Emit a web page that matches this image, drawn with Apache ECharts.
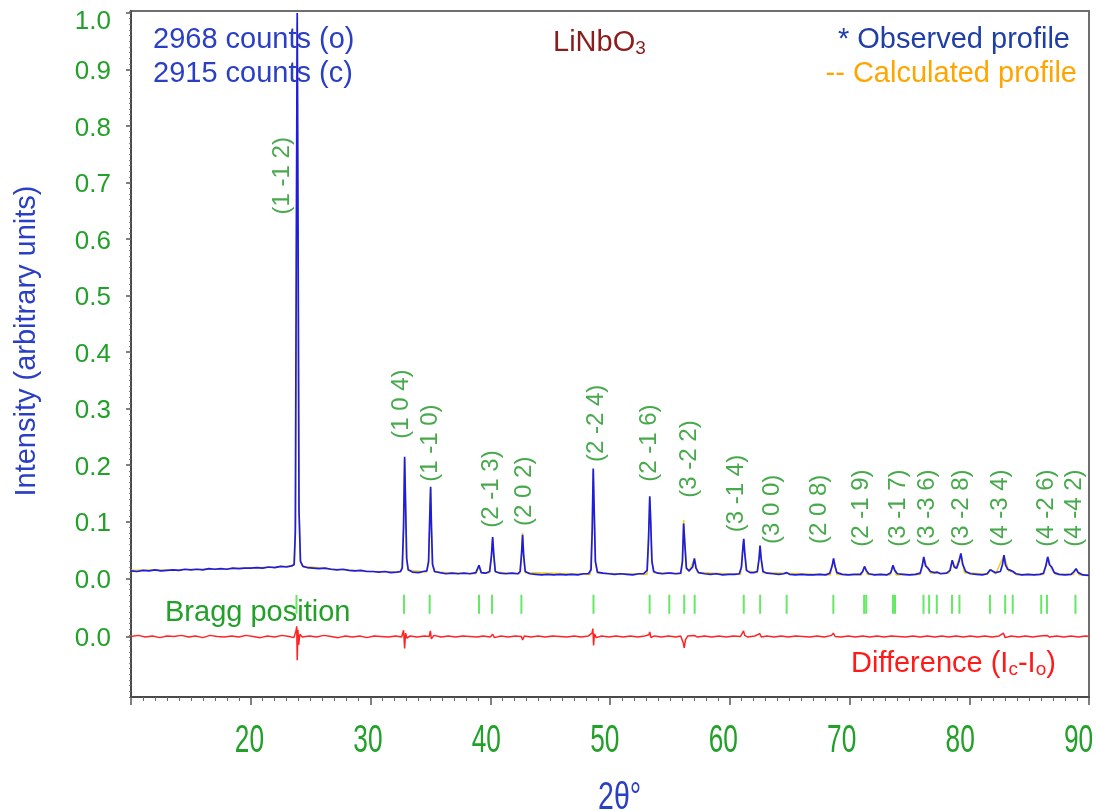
<!DOCTYPE html>
<html>
<head>
<meta charset="utf-8">
<title>LiNbO3 XRD Rietveld refinement</title>
<script src="https://cdn.jsdelivr.net/npm/echarts@6/dist/echarts.min.js"></script>
<style>
  html, body { margin: 0; padding: 0; background: #ffffff; }
  #chart { width: 1096px; height: 811px; }
</style>
</head>
<body>
<div id="chart"></div>
<script>
// ---- data -------------------------------------------------------------
// peak counts of the strongest reflection
const countsObserved = 2968;
const countsCalculated = 2915;

// observed profile: [2theta (deg), normalised intensity]
const observedProfile = [
  [10.0,0.013],[10.5,0.012],[11.0,0.014],[11.5,0.013],[12.0,0.015],[12.5,0.013],[13.0,0.014],[13.5,0.015],
  [14.0,0.014],[14.5,0.016],[15.0,0.015],[15.5,0.016],[16.0,0.015],[16.5,0.017],[17.0,0.016],[17.5,0.017],
  [18.0,0.016],[18.5,0.018],[19.0,0.017],[19.5,0.018],[20.0,0.018],[20.5,0.019],[21.0,0.018],[21.5,0.020],
  [22.0,0.019],[22.5,0.021],[23.0,0.020],[23.4,0.022],
  [23.62,0.024],[23.72,0.08],[23.80,0.55],[23.88,1.0],[23.95,0.62],[24.03,0.12],[24.15,0.030],[24.35,0.021],
  [24.7,0.019],[25.2,0.018],[25.7,0.017],[26.2,0.018],[26.7,0.016],[27.2,0.015],[27.7,0.016],[28.2,0.014],
  [28.7,0.013],[29.2,0.014],[29.7,0.012],[30.2,0.012],[30.7,0.011],[31.2,0.012],[31.7,0.010],[32.2,0.011],
  [32.5,0.012],[32.65,0.018],[32.76,0.09],[32.85,0.215],[32.93,0.13],[33.02,0.035],[33.15,0.015],
  [33.5,0.011],[34.0,0.010],[34.4,0.012],[34.7,0.013],
  [34.85,0.03],[34.95,0.11],[35.02,0.162],[35.09,0.09],[35.18,0.025],[35.35,0.012],
  [35.8,0.010],[36.3,0.008],[36.8,0.009],[37.3,0.008],[37.8,0.009],[38.3,0.008],[38.8,0.010],
  [39.06,0.023],[39.25,0.010],[39.6,0.009],[39.95,0.012],
  [40.1,0.04],[40.2,0.073],[40.3,0.04],[40.42,0.012],[40.8,0.009],[41.3,0.008],[41.8,0.009],[42.3,0.008],
  [42.5,0.012],[42.62,0.045],[42.7,0.077],[42.79,0.04],[42.92,0.012],[43.3,0.008],[43.8,0.007],[44.3,0.006],
  [44.8,0.007],[45.3,0.006],[45.8,0.007],[46.3,0.006],[46.8,0.007],[47.3,0.006],[47.8,0.008],[48.2,0.008],
  [48.42,0.015],[48.52,0.09],[48.6,0.194],[48.68,0.12],[48.78,0.03],[48.95,0.011],[49.4,0.009],[49.9,0.008],
  [50.4,0.007],[50.9,0.008],[51.4,0.007],[51.9,0.006],[52.4,0.008],[52.8,0.008],[53.1,0.014],
  [53.22,0.07],[53.32,0.145],[53.4,0.10],[53.5,0.03],[53.65,0.012],[54.0,0.009],[54.4,0.008],[54.8,0.009],
  [54.95,0.012],[55.1,0.009],[55.5,0.008],[55.9,0.009],
  [56.05,0.03],[56.15,0.097],[56.25,0.06],[56.38,0.018],[56.6,0.013],[56.9,0.020],[57.05,0.035],[57.18,0.018],
  [57.4,0.010],[57.9,0.008],[58.4,0.007],[58.9,0.008],[59.4,0.006],[59.9,0.007],[60.4,0.007],[60.8,0.008],
  [60.98,0.02],[61.1,0.055],[61.17,0.070],[61.25,0.045],[61.4,0.014],[61.7,0.010],[62.0,0.010],[62.3,0.012],
  [62.45,0.035],[62.53,0.058],[62.62,0.035],[62.78,0.012],[63.1,0.009],[63.6,0.008],[64.1,0.007],[64.5,0.008],
  [64.75,0.010],[65.0,0.007],[65.5,0.006],[66.0,0.007],[66.5,0.006],[67.0,0.006],[67.5,0.007],[68.0,0.006],
  [68.35,0.009],[68.55,0.022],[68.67,0.035],[68.78,0.022],[68.95,0.010],[69.4,0.007],[69.9,0.006],[70.4,0.007],
  [70.9,0.007],[71.1,0.012],[71.25,0.021],[71.4,0.014],[71.6,0.008],[72.1,0.006],[72.6,0.007],[73.1,0.006],
  [73.45,0.010],[73.63,0.023],[73.78,0.014],[74.0,0.008],[74.5,0.007],[75.0,0.006],[75.5,0.007],[75.9,0.009],
  [76.08,0.022],[76.2,0.038],[76.35,0.022],[76.55,0.018],[76.75,0.012],[77.1,0.010],[77.3,0.011],[77.6,0.008],
  [78.1,0.009],[78.4,0.014],[78.58,0.032],[78.75,0.020],[78.95,0.018],[79.15,0.030],[79.3,0.044],[79.45,0.025],
  [79.7,0.012],[80.1,0.008],[80.6,0.007],[81.1,0.006],[81.5,0.008],[81.75,0.015],[81.9,0.012],[82.2,0.010],
  [82.6,0.012],[82.78,0.025],[82.9,0.041],[83.02,0.024],[83.2,0.016],[83.45,0.014],[83.65,0.012],[83.9,0.008],
  [84.4,0.006],[84.9,0.007],[85.4,0.006],[85.9,0.007],[86.2,0.009],[86.4,0.022],[86.55,0.038],[86.7,0.024],
  [86.88,0.020],[87.1,0.010],[87.5,0.007],[88.0,0.006],[88.5,0.007],[88.75,0.012],[88.92,0.017],[89.1,0.010],
  [89.5,0.006],[90.0,0.005]
];

// calculated profile: [2theta (deg), normalised intensity]
const calculatedProfile = [
  [10,0.014],[14,0.015],[18,0.017],[22,0.020],[23.5,0.022],[23.65,0.026],[23.75,0.10],[23.81,0.55],
  [23.88,0.982],[23.95,0.60],[24.02,0.13],[24.15,0.030],[24.4,0.021],[27,0.016],[30,0.012],[32.5,0.011],
  [32.66,0.02],[32.76,0.09],[32.85,0.21],[32.93,0.13],[33.02,0.035],[33.15,0.014],[34.7,0.011],[34.85,0.028],
  [34.95,0.10],[35.02,0.158],[35.09,0.09],[35.18,0.024],[35.35,0.011],[38.8,0.008],[39.06,0.021],[39.3,0.009],
  [39.95,0.010],[40.1,0.04],[40.2,0.071],[40.3,0.04],[40.42,0.011],[42.45,0.008],[42.62,0.045],[42.7,0.080],
  [42.79,0.04],[42.92,0.010],[48.35,0.007],[48.52,0.09],[48.6,0.19],[48.68,0.12],[48.78,0.03],[48.95,0.009],
  [53.1,0.007],[53.22,0.07],[53.32,0.143],[53.4,0.10],[53.5,0.03],[53.65,0.010],[55.95,0.008],[56.05,0.032],
  [56.15,0.103],[56.25,0.064],[56.38,0.018],[56.6,0.012],[57.05,0.034],[57.3,0.010],[60.9,0.007],[61.1,0.055],
  [61.17,0.068],[61.25,0.045],[61.4,0.013],[62.3,0.010],[62.45,0.035],[62.53,0.057],[62.62,0.035],[62.78,0.010],
  [68.4,0.006],[68.67,0.034],[68.95,0.007],[71.0,0.006],[71.25,0.020],[71.5,0.007],[73.4,0.006],[73.63,0.022],
  [73.9,0.006],[75.9,0.007],[76.2,0.037],[76.5,0.018],[76.8,0.009],[78.3,0.009],[78.58,0.031],[78.85,0.017],
  [79.3,0.043],[79.6,0.010],[81.5,0.007],[81.8,0.015],[82.2,0.008],[82.9,0.040],[83.3,0.013],[83.65,0.011],
  [84,0.006],[86.2,0.007],[86.55,0.037],[86.85,0.018],[87.2,0.007],[88.7,0.007],[88.92,0.016],[89.2,0.006],
  [90,0.005]
];

// difference Ic - Io: [2theta (deg), intensity difference]
const differenceProfile = [
  [10,0],[10.6,0.002],[11.2,-0.001],[11.8,0.001],[12.4,-0.002],[13,0.001],[13.6,0],[14.2,0.002],[14.8,-0.001],
  [15.4,0.001],[16,-0.002],[16.6,0.002],[17.2,0],[17.8,-0.001],[18.4,0.001],[19,-0.001],[19.6,0.002],[20.2,0],
  [20.8,-0.002],[21.4,0.001],[22,-0.001],[22.6,0.002],[23.2,0],[23.6,-0.002],[23.78,0.010],[23.84,0.018],
  [23.88,-0.042],[23.94,0.012],[24.0,-0.015],[24.1,0.004],[24.3,-0.001],[24.9,0.001],[25.5,-0.001],[26.1,0.002],
  [26.7,0],[27.3,-0.002],[27.9,0.001],[28.5,-0.001],[29.1,0.001],[29.7,-0.002],[30.3,0.001],[30.9,0],
  [31.5,-0.001],[32.1,0.001],[32.6,-0.001],[32.76,0.011],[32.85,-0.021],[32.93,0.006],[33.05,-0.003],
  [33.3,0.001],[33.9,-0.001],[34.5,0.001],[34.9,0],[35.0,0.010],[35.08,-0.004],[35.3,0.002],[35.9,-0.001],
  [36.5,0.001],[37.1,-0.001],[37.7,0.001],[38.3,0],[38.9,-0.001],[39.4,0.001],[40.0,-0.001],[40.2,0.004],
  [40.35,-0.002],[40.9,0.001],[41.5,-0.001],[42.1,0.001],[42.6,0],[42.7,-0.006],[42.85,0.001],[43.4,-0.001],
  [44,0.001],[44.6,-0.001],[45.2,0.001],[45.8,0],[46.4,-0.001],[47,0.001],[47.6,-0.001],[48.2,0.001],
  [48.5,0.006],[48.57,0.014],[48.63,-0.016],[48.7,0.005],[48.85,-0.002],[49.3,0.001],[49.9,-0.001],[50.5,0.001],
  [51.1,-0.001],[51.7,0.001],[52.3,-0.001],[52.9,0.001],[53.25,0.003],[53.32,0.008],[53.42,-0.002],[53.7,0.001],
  [54.3,-0.001],[54.9,0.001],[55.5,-0.001],[55.9,0.001],[56.1,-0.010],[56.2,-0.020],[56.3,-0.006],[56.5,0.001],
  [57.05,0.002],[57.3,-0.001],[57.9,0.001],[58.5,-0.001],[59.1,0.001],[59.7,-0.001],[60.3,0.001],[60.9,0],
  [61.05,0.006],[61.15,0.010],[61.25,0.002],[61.5,-0.001],[62.1,0.001],[62.5,0.005],[62.65,-0.001],[63.1,0.001],
  [63.7,-0.001],[64.3,0.001],[64.9,-0.001],[65.5,0.001],[66.1,0],[66.7,-0.001],[67.3,0.001],[67.9,-0.001],
  [68.5,0.002],[68.65,0.006],[68.8,0],[69.3,-0.001],[69.9,0.001],[70.5,-0.001],[71.1,0.001],[71.7,-0.001],
  [72.3,0.001],[72.9,-0.001],[73.5,0.001],[74.1,0],[74.7,-0.001],[75.3,0.001],[75.9,-0.001],[76.5,0.001],
  [77.1,-0.001],[77.7,0.001],[78.3,-0.001],[78.9,0.001],[79.5,-0.001],[80.1,0.001],[80.7,-0.001],[81.3,0.001],
  [81.9,-0.001],[82.5,0.001],[82.85,0.006],[83.0,-0.002],[83.5,0.001],[84.1,-0.001],[84.7,0.001],[85.3,-0.001],
  [85.9,0.001],[86.5,0.002],[86.7,-0.001],[87.3,0.001],[87.9,-0.001],[88.5,0.001],[89.1,-0.001],[89.7,0.001],
  [90,0]
];

// Bragg reflection positions (2theta, deg)
const braggPositions = [
  23.82, 32.80, 34.94, 39.06, 40.15, 42.60, 48.62, 53.31, 54.95, 56.20, 57.07, 61.17, 62.54, 64.75,
  68.65, 71.22, 71.40, 73.63, 73.80, 76.18, 76.65, 77.29, 78.56, 79.18, 81.73, 83.00, 83.63, 86.01,
  86.49, 88.87
];

// Miller indices and where their labels sit (2theta, intensity)
const hklNames = ['(1 -1 2)','(1 0 4)','(1 -1 0)','(2 -1 3)','(2 0 2)','(2 -2 4)','(2 -1 6)','(3 -2 2)',
  '(3 -1 4)','(3 0 0)','(2 0 8)','(2 -1 9)','(3 -1 7)','(3 -3 6)','(3 -2 8)','(4 -3 4)','(4 -2 6)','(4 -4 2)'];
const hklTheta = [22.67, 32.61, 35.03, 40.10, 42.88, 48.87, 53.32, 56.66, 60.58, 63.59, 67.52, 71.02,
  74.11, 76.53, 79.37, 82.63, 86.47, 88.81];
const hklLevel = [0.712, 0.308, 0.239, 0.158, 0.154, 0.274, 0.239, 0.211, 0.150, 0.122, 0.122, 0.124,
  0.124, 0.124, 0.124, 0.124, 0.124, 0.124];

// axis ticks
const xTickLabels = [20, 30, 40, 50, 60, 70, 80, 90];
const yTickValues = [0, 0.1, 0.2, 0.3, 0.4, 0.5, 0.6, 0.7, 0.8, 0.9, 1.0];

// ---- layout constants -------------------------------------------------
const DIFF_ZERO = -0.103;    // zero line of the difference curve
const BRAGG_LEVEL = -0.046;  // row of Bragg markers
const Y_MIN = -0.21, Y_MAX = 1.0035;

const FONT = "'Liberation Sans', Arial, Helvetica, sans-serif";
const GREEN = '#22a02a';
const HKL_GREEN = '#1a931f';
const BLUE_TXT = '#2a3fc4';

const chart = echarts.init(document.getElementById('chart'), null, { renderer: 'canvas' });

const hklData = hklNames.map((n, i) => ({ name: n, value: [hklTheta[i], hklLevel[i]] }));

const option = {
  animation: false,
  backgroundColor: '#ffffff',
  grid: {
    left: 131, top: 11, width: 958, height: 686,
    show: true, borderColor: '#6e6e6e', borderWidth: 2, backgroundColor: 'transparent'
  },
  xAxis: [{
    type: 'value', min: 10, max: 90, interval: 10, position: 'bottom',
    axisLine: { show: true, onZero: false, lineStyle: { color: '#4a4a4a', width: 2 } },
    axisTick: { show: true, inside: false, length: 8, lineStyle: { color: '#555', width: 1.5 } },
    minorTick: { show: true, splitNumber: 10, length: 4, lineStyle: { color: '#666', width: 1 } },
    axisLabel: { show: false },
    splitLine: { show: false }
  }],
  yAxis: [{
    type: 'value', min: Y_MIN, max: Y_MAX, position: 'left',
    axisLine: { show: true, onZero: false, lineStyle: { color: '#4a4a4a', width: 2 } },
    axisTick: { show: true, inside: false, length: 5, customValues: [DIFF_ZERO].concat(yTickValues),
      lineStyle: { color: '#555', width: 1.5 } },
    axisLabel: {
      show: true, margin: 20, customValues: [DIFF_ZERO].concat(yTickValues),
      fontFamily: FONT, fontSize: 26, color: GREEN,
      formatter: v => (v > 0.99 ? '{top|1.0}' : '{n|' + (v < -0.05 ? '0.0' : v.toFixed(1)) + '}'),
      rich: {
        n: { fontFamily: FONT, fontSize: 26, color: GREEN, padding: [5, 0, 0, 0] },
        top: { fontFamily: FONT, fontSize: 26, color: GREEN, padding: [18, 0, 0, 0] }
      }
    },
    splitLine: { show: false }
  }, {
    type: 'value', min: Y_MIN, max: Y_MAX, interval: 0.01, position: 'left',
    axisLine: { show: false, onZero: false },
    axisTick: { show: true, inside: false, length: 2, lineStyle: { color: '#777', width: 1 } },
    axisLabel: { show: false },
    splitLine: { show: false }
  }],
  series: [
    {
      name: 'Calculated profile', type: 'line', data: calculatedProfile, symbol: 'none',
      lineStyle: { color: '#f2d21b', width: 1.6 }, z: 2
    },
    {
      name: 'Observed profile', type: 'line', data: observedProfile, symbol: 'none',
      lineStyle: { color: '#1c1ce6', width: 1.7 }, z: 3
    },
    {
      name: 'Difference', type: 'line', symbol: 'none',
      data: differenceProfile.map(p => [p[0], DIFF_ZERO + p[1]]),
      lineStyle: { color: '#ff2424', width: 1.5 }, z: 3
    },
    {
      name: 'Bragg position', type: 'scatter', symbol: 'rect', symbolSize: [2, 19],
      data: braggPositions.map(t => [t, BRAGG_LEVEL]),
      itemStyle: { color: '#3ee23e' }, z: 4
    },
    {
      name: 'hkl', type: 'scatter', symbolSize: 1, data: hklData,
      itemStyle: { color: 'rgba(0,0,0,0)' },
      label: {
        show: true, position: 'inside', rotate: 90, formatter: '{b}',
        fontFamily: FONT, fontSize: 24, color: HKL_GREEN
      }, z: 5
    }
  ],
  graphic: [
    { type: 'text', left: 153, top: 25, style: { text: countsObserved + ' counts (o)', font: '29px ' + FONT, fill: BLUE_TXT } },
    { type: 'text', left: 153, top: 59, style: { text: countsCalculated + ' counts (c)', font: '29px ' + FONT, fill: BLUE_TXT } },
    { type: 'text', left: 553, top: 28, style: {
        text: '{a|LiNbO}{s|3}',
        rich: { a: { font: '29px ' + FONT, fill: '#8b1c1c' }, s: { font: '19px ' + FONT, fill: '#8b1c1c', padding: [12, 0, 0, 0] } }
    } },
    { type: 'text', right: 26, top: 25, style: { text: '* Observed profile', font: '29px ' + FONT, fill: '#1f3ea6' } },
    { type: 'text', right: 19, top: 59, style: { text: '-- Calculated profile', font: '29px ' + FONT, fill: '#ffa500' } },
    { type: 'text', left: 165, top: 598, style: { text: 'Bragg position', font: '29px ' + FONT, fill: GREEN } },
    { type: 'text', left: 851, top: 649, style: {
        text: '{a|Difference (I}{s|c}{a|-I}{s|o}{a|)}',
        rich: { a: { font: '29px ' + FONT, fill: '#ff1a1a' }, s: { font: '19px ' + FONT, fill: '#ff1a1a', padding: [12, 0, 0, 0] } }
    } },
    { type: 'text', x: 27, y: 341, rotation: Math.PI / 2, style: {
        text: 'Intensity (arbitrary units)', font: '29px ' + FONT, fill: BLUE_TXT,
        textAlign: 'center', textVerticalAlign: 'middle'
    } }
  ]
};

chart.setOption(option);

// condensed 2theta tick labels and axis title placed through the x scale
const yBase = chart.convertToPixel({ yAxisIndex: 0 }, Y_MIN);
const xLabelGraphics = xTickLabels.map(v => ({
  type: 'text',
  x: chart.convertToPixel({ xAxisIndex: 0 }, v) - (v - 10) * 0.13,
  y: yBase + 45, scaleX: 0.69,
  style: { text: String(v), font: '38px ' + FONT, fill: GREEN, textAlign: 'center', textVerticalAlign: 'middle' }
}));
const xMid = chart.convertToPixel({ xAxisIndex: 0 }, 50.8);
xLabelGraphics.push({
  type: 'text', x: xMid, y: yBase + 102, scaleX: 0.75,
  style: { text: '2θ°', font: '38px ' + FONT, fill: BLUE_TXT, textAlign: 'center', textVerticalAlign: 'middle' }
});
chart.setOption({ graphic: option.graphic.concat(xLabelGraphics) }, { replaceMerge: ['graphic'] });
</script>
</body>
</html>
